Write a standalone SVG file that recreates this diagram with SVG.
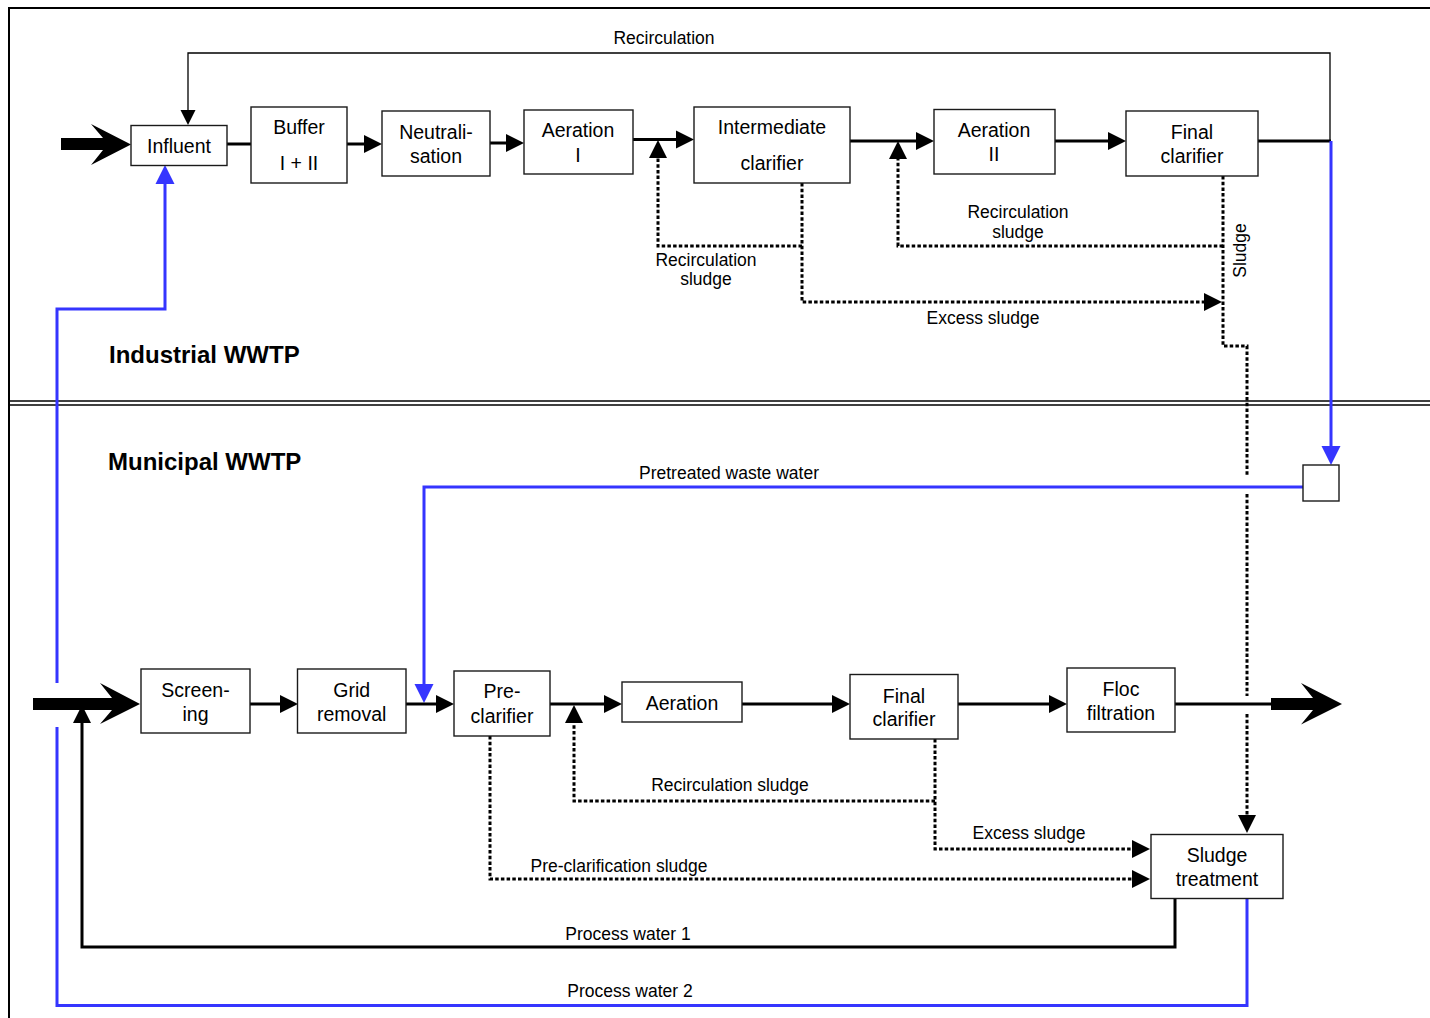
<svg xmlns="http://www.w3.org/2000/svg" width="1430" height="1018" viewBox="0 0 1430 1018">
<style>
.box{fill:#fff;stroke:#1a1a1a;stroke-width:1.4}
.t{font-family:"Liberation Sans",Arial,sans-serif;font-size:19.5px;fill:#000;text-anchor:middle}
.s{font-family:"Liberation Sans",Arial,sans-serif;font-size:17.5px;fill:#000;text-anchor:middle}
.h{font-family:"Liberation Sans",Arial,sans-serif;font-size:24px;font-weight:bold;fill:#000}
.w{fill:none;stroke:#000;stroke-width:3}
.thin{fill:none;stroke:#000;stroke-width:1.3}
.dot{fill:none;stroke:#000;stroke-width:3;stroke-dasharray:3.5 2.2}
.blue{fill:none;stroke:#3535ff;stroke-width:3}
.big{fill:#000}
</style>
<defs>
<marker id="ah" markerUnits="userSpaceOnUse" markerWidth="18" markerHeight="18" refX="0" refY="9" orient="auto" overflow="visible"><path d="M0,0 L18,9 L0,18 Z" fill="#000"/></marker>
<marker id="ahb" markerUnits="userSpaceOnUse" markerWidth="19" markerHeight="19" refX="0" refY="9.5" orient="auto" overflow="visible"><path d="M0,0 L19,9.5 L0,19 Z" fill="#3535ff"/></marker>
<marker id="ahs" markerUnits="userSpaceOnUse" markerWidth="15" markerHeight="15" refX="0" refY="7.5" orient="auto" overflow="visible"><path d="M0,0 L15,7.5 L0,15 Z" fill="#000"/></marker>
</defs>
<rect width="1430" height="1018" fill="#fff"/>
<g id="frame">
<path d="M9,1018 V8 H1430" fill="none" stroke="#000" stroke-width="2"/>
<line x1="9" y1="401" x2="1430" y2="401" stroke="#000" stroke-width="1.6"/>
<line x1="9" y1="405" x2="1430" y2="405" stroke="#000" stroke-width="1.6"/>
</g>
<g id="connectors">
<path class="thin" d="M1330,141 V53 H188 V110" marker-end="url(#ahs)"/>
<path class="w" d="M227,144 H251"/>
<path class="w" d="M347,144 H364" marker-end="url(#ah)"/>
<path class="w" d="M490,143 H506" marker-end="url(#ah)"/>
<path class="w" d="M633,139.5 H676" marker-end="url(#ah)"/>
<path class="dot" d="M802,246 H658 V158" marker-end="url(#ah)"/>
<path class="w" d="M850,141 H916" marker-end="url(#ah)"/>
<path class="dot" d="M1223,246 H898 V159" marker-end="url(#ah)"/>
<path class="w" d="M1055,141 H1108" marker-end="url(#ah)"/>
<path class="w" d="M1258,141 H1331"/>
<path class="blue" d="M1331,141 V446" marker-end="url(#ahb)"/>
<path class="dot" d="M802,183 V302 H1204" marker-end="url(#ah)"/>
<path class="dot" d="M1223,176 V346 H1247 V475"/>
<path class="dot" d="M1247,494 V696"/>
<path class="dot" d="M1247,714 V815" marker-end="url(#ah)"/>
<path class="blue" d="M57,683 V309 H165 V184" marker-end="url(#ahb)"/>
<path class="blue" d="M57,727 V1005.5 H1247 V898"/>
<path class="blue" d="M1303,487 H424 V684" marker-end="url(#ahb)"/>
<path class="big" d="M61,138 H103 L91,124 L131,144.5 L91,165 L103,150 H61 Z"/>
<path class="big" d="M33,698 H112 L100,683 L140,704 L100,724 L112,710 H33 Z"/>
<path class="w" d="M250,704 H280" marker-end="url(#ah)"/>
<path class="w" d="M406,704 H436" marker-end="url(#ah)"/>
<path class="w" d="M550,704 H604" marker-end="url(#ah)"/>
<path class="dot" d="M935,801 H574 V723" marker-end="url(#ah)"/>
<path class="w" d="M742,704 H832" marker-end="url(#ah)"/>
<path class="w" d="M958,704 H1049" marker-end="url(#ah)"/>
<path class="w" d="M1175,704 H1272"/>
<path class="big" d="M1271,698 H1313 L1301,683 L1342,704 L1301,724.5 L1313,710 H1271 Z"/>
<path class="dot" d="M935,739 V849 H1132" marker-end="url(#ah)"/>
<path class="dot" d="M490,736 V879 H1132" marker-end="url(#ah)"/>
<path class="w" d="M1175,898 V947 H82 V723" marker-end="url(#ah)"/>
</g>
<g id="labels">
<text class="s" x="664" y="44">Recirculation</text>
<text class="s" x="706" y="266">Recirculation</text>
<text class="s" x="706" y="285">sludge</text>
<text class="s" x="1018" y="218">Recirculation</text>
<text class="s" x="1018" y="238">sludge</text>
<text class="s" x="983" y="324">Excess sludge</text>
<text class="s" transform="translate(1246,250.5) rotate(-90)">Sludge</text>
<text class="h" x="109" y="363">Industrial WWTP</text>
<text class="h" x="108" y="470">Municipal WWTP</text>
<text class="s" x="729" y="479">Pretreated waste water</text>
<text class="s" x="730" y="791">Recirculation sludge</text>
<text class="s" x="1029" y="839">Excess sludge</text>
<text class="s" x="619" y="872">Pre-clarification sludge</text>
<text class="s" x="628" y="940">Process water 1</text>
<text class="s" x="630" y="997">Process water 2</text>
</g>
<g id="influent"><rect class="box" x="131" y="125.5" width="96" height="40"/><text class="t" x="179" y="153">Influent</text></g>
<g id="buffer"><rect class="box" x="251" y="107" width="96" height="76"/><text class="t" x="299" y="134">Buffer</text><text class="t" x="299" y="170">I + II</text></g>
<g id="neutralisation"><rect class="box" x="382" y="111" width="108" height="65"/><text class="t" x="436" y="139">Neutrali-</text><text class="t" x="436" y="163">sation</text></g>
<g id="aeration1"><rect class="box" x="524" y="110" width="109" height="64"/><text class="t" x="578" y="137">Aeration</text><text class="t" x="578" y="161.5">I</text></g>
<g id="intermediate-clarifier"><rect class="box" x="694" y="107" width="156" height="76"/><text class="t" x="772" y="134">Intermediate</text><text class="t" x="772" y="170">clarifier</text></g>
<g id="aeration2"><rect class="box" x="934" y="109.5" width="121" height="64.5"/><text class="t" x="994" y="137">Aeration</text><text class="t" x="994" y="161">II</text></g>
<g id="final-clarifier-ind"><rect class="box" x="1126" y="111" width="132" height="65"/><text class="t" x="1192" y="139">Final</text><text class="t" x="1192" y="163">clarifier</text></g>
<g id="junction"><rect class="box" x="1303" y="465" width="36" height="36"/></g>
<g id="screening"><rect class="box" x="141" y="669" width="109" height="64"/><text class="t" x="195.5" y="697">Screen-</text><text class="t" x="195.5" y="721">ing</text></g>
<g id="grid-removal"><rect class="box" x="297.5" y="669" width="108.5" height="64"/><text class="t" x="351.7" y="697">Grid</text><text class="t" x="351.7" y="721">removal</text></g>
<g id="pre-clarifier"><rect class="box" x="454" y="671" width="96" height="65"/><text class="t" x="502" y="698">Pre-</text><text class="t" x="502" y="723">clarifier</text></g>
<g id="aeration"><rect class="box" x="622" y="682" width="120" height="40"/><text class="t" x="682" y="710">Aeration</text></g>
<g id="final-clarifier-mun"><rect class="box" x="850" y="674.5" width="108" height="64.5"/><text class="t" x="904" y="703">Final</text><text class="t" x="904" y="726">clarifier</text></g>
<g id="floc-filtration"><rect class="box" x="1067" y="668" width="108" height="64"/><text class="t" x="1121" y="696">Floc</text><text class="t" x="1121" y="720">filtration</text></g>
<g id="sludge-treatment"><rect class="box" x="1151" y="834.5" width="132" height="64"/><text class="t" x="1217" y="862">Sludge</text><text class="t" x="1217" y="886">treatment</text></g>
</svg>
